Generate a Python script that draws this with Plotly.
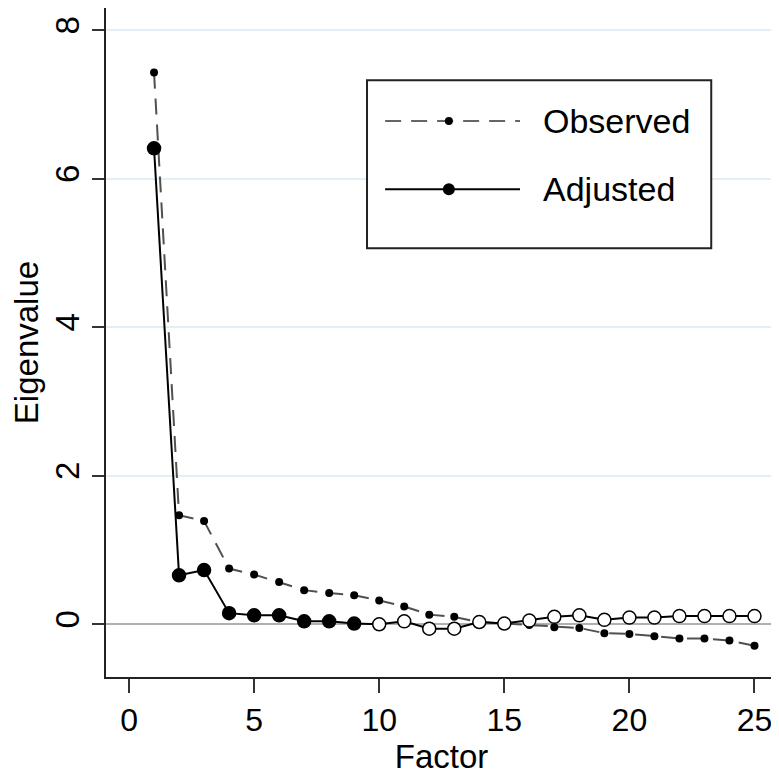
import plotly.graph_objects as go

factors = list(range(1, 26))
observed = [7.43, 1.47, 1.39, 0.75, 0.67, 0.57, 0.46, 0.42, 0.39, 0.32,
            0.24, 0.13, 0.10, 0.03, 0.01, -0.01, -0.04, -0.05, -0.12, -0.13,
            -0.16, -0.19, -0.19, -0.22, -0.29]
adjusted = [6.41, 0.66, 0.73, 0.15, 0.12, 0.12, 0.04, 0.04, 0.01, 0.00,
            0.04, -0.06, -0.06, 0.03, 0.01, 0.05, 0.10, 0.12, 0.06, 0.09,
            0.09, 0.11, 0.11, 0.11, 0.11]
x_ticks = [0, 5, 10, 15, 20, 25]
y_ticks = [0, 2, 4, 6, 8]

FONT = "Liberation Sans, Arial, Helvetica, sans-serif"

adj_fill = ["black" if f < 10 else "white" for f in factors]

fig = go.Figure()
fig.add_trace(go.Scatter(
    x=factors, y=observed, mode="lines+markers", name="Observed",
    line=dict(color="#505050", width=2, dash="16px,10px"),
    marker=dict(color="black", size=8),
    showlegend=False,
))
fig.add_trace(go.Scatter(
    x=factors, y=adjusted, mode="lines+markers", name="Adjusted",
    line=dict(color="black", width=2),
    marker=dict(color=adj_fill, size=13, line=dict(color="black", width=1.5)),
    showlegend=False,
))

# Legend drawn as decoration
shapes = [
    dict(type="rect", xref="paper", yref="paper", x0=0.389, x1=0.902, y0=0.641, y1=0.892,
         line=dict(color="#222222", width=2), fillcolor="white", layer="above"),
    dict(type="line", xref="paper", yref="paper", x0=0.416, x1=0.617, y0=0.831, y1=0.831,
         line=dict(color="#666666", width=2, dash="16px,10px"), layer="above"),
    dict(type="line", xref="paper", yref="paper", x0=0.416, x1=0.617, y0=0.729, y1=0.729,
         line=dict(color="black", width=2), layer="above"),
    dict(type="circle", xref="paper", yref="paper", xsizemode="pixel", ysizemode="pixel",
         xanchor=0.511, yanchor=0.831, x0=-4, x1=4, y0=-4, y1=4,
         fillcolor="black", line=dict(color="black", width=0), layer="above"),
    dict(type="circle", xref="paper", yref="paper", xsizemode="pixel", ysizemode="pixel",
         xanchor=0.511, yanchor=0.729, x0=-6, x1=6, y0=-6, y1=6,
         fillcolor="black", line=dict(color="black", width=0), layer="above"),
]
annotations = [
    dict(xref="paper", yref="paper", x=0.648, y=0.831, text="Observed", showarrow=False,
         xanchor="left", yanchor="middle", font=dict(family=FONT, size=34, color="black")),
    dict(xref="paper", yref="paper", x=0.648, y=0.729, text="Adjusted", showarrow=False,
         xanchor="left", yanchor="middle", font=dict(family=FONT, size=34, color="black")),
]

# The page body adds an 8px offset, so the figure is sized to compensate.
fig.update_layout(
    width=771, height=769,
    margin=dict(l=98, r=2, t=0, b=100, autoexpand=False),
    paper_bgcolor="white", plot_bgcolor="white",
    font=dict(family=FONT, color="black"),
    shapes=shapes, annotations=annotations,
    xaxis=dict(
        range=[-0.92, 25.9], tickvals=x_ticks, ticks="outside", ticklen=14, tickwidth=2,
        tickcolor="#333333", showline=True, linecolor="#222222", linewidth=2,
        showgrid=False, zeroline=False, tickfont=dict(size=32), automargin=False,
        title=dict(text="Factor", font=dict(size=33), standoff=2),
    ),
    yaxis=dict(
        range=[-0.71, 8.3], tickvals=y_ticks, ticks="outside", ticklen=12, tickwidth=2,
        tickcolor="#333333", showline=True, linecolor="#222222", linewidth=2,
        showgrid=True, gridcolor="#e3eff4", gridwidth=2,
        zeroline=True, zerolinecolor="#b0b0b0", zerolinewidth=2,
        tickangle=-90, tickfont=dict(size=33), automargin=False,
        title=dict(text="Eigenvalue", font=dict(size=33), standoff=4),
    ),
)

fig.write_html("out.html")
